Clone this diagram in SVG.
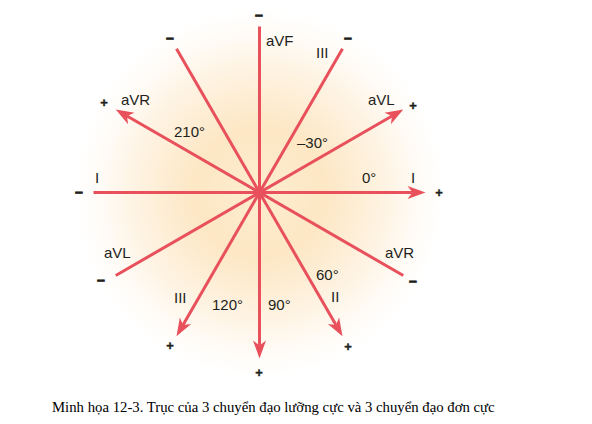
<svg xmlns="http://www.w3.org/2000/svg" width="592" height="424" viewBox="0 0 592 424">
<style>
.ax{stroke:#e8505b;stroke-width:3;fill:none}
.lb{font-family:"Liberation Sans",Arial,sans-serif;font-size:15px;fill:#231f20}
.sg{font-family:"Liberation Sans",Arial,sans-serif;font-size:13px;font-weight:bold;fill:#231f20;stroke:#231f20;stroke-width:0.4;text-anchor:middle}
.mn{font-family:"Liberation Sans",Arial,sans-serif;font-size:14px;font-weight:bold;fill:#231f20;stroke:#231f20;stroke-width:0.8;text-anchor:middle}
.cap{font-family:"Liberation Serif","Times New Roman",serif;font-size:14.75px;fill:#000}
</style>
<defs>
<radialGradient id="glow" cx="259.5" cy="192.5" r="185" gradientUnits="userSpaceOnUse">
<stop offset="0" stop-color="#fdedcf"/>
<stop offset="0.35" stop-color="#fde7c4"/>
<stop offset="0.65" stop-color="#fef2e0"/>
<stop offset="0.88" stop-color="#fffcf8"/>
<stop offset="1" stop-color="#ffffff"/>
</radialGradient>
<marker id="ah" markerUnits="userSpaceOnUse" markerWidth="20" markerHeight="14" viewBox="-20 -7 20 14" refX="-13" refY="0" orient="auto">
<path d="M0,0 L-18,-6.5 L-13,0 L-18,6.5 Z" fill="#e8505b"/>
</marker>
</defs>
<rect width="592" height="424" fill="#fff"/>
<circle cx="259.5" cy="192.5" r="185" fill="url(#glow)"/>

<g id="connectors">
<line id="axis-I" class="ax" x1="-166" y1="0" x2="153" y2="0" marker-end="url(#ah)" transform="translate(259.5,192.5) rotate(0)"/>
<line id="axis-aVL" class="ax" x1="-166" y1="0" x2="153" y2="0" marker-end="url(#ah)" transform="translate(259.5,192.5) rotate(-30)"/>
<line id="axis-aVR" class="ax" x1="-166" y1="0" x2="153" y2="0" marker-end="url(#ah)" transform="translate(259.5,192.5) rotate(-150)"/>
<line id="axis-II" class="ax" x1="-166" y1="0" x2="153" y2="0" marker-end="url(#ah)" transform="translate(259.5,192.5) rotate(60)"/>
<line id="axis-III" class="ax" x1="-166" y1="0" x2="153" y2="0" marker-end="url(#ah)" transform="translate(259.5,192.5) rotate(120)"/>
<line id="axis-aVF" class="ax" x1="-166" y1="0" x2="153" y2="0" marker-end="url(#ah)" transform="translate(259.5,192.5) rotate(90)"/>
</g>

<g id="lead-I">
<text class="lb" x="95" y="183">I</text>
<text class="lb" x="411" y="183">I</text>
<text class="lb" x="362" y="183">0°</text>
<text class="mn" x="79" y="197">–</text>
<text class="sg" x="439" y="197">+</text>
</g>
<g id="lead-aVL">
<text class="lb" x="368" y="105">aVL</text>
<text class="lb" x="104" y="258">aVL</text>
<text class="lb" x="297" y="148">–30°</text>
<text class="sg" x="413" y="110">+</text>
<text class="mn" x="101" y="285">–</text>
</g>
<g id="lead-aVR">
<text class="lb" x="121" y="105">aVR</text>
<text class="lb" x="385" y="258">aVR</text>
<text class="lb" x="174" y="137">210°</text>
<text class="sg" x="104" y="107">+</text>
<text class="mn" x="413" y="286">–</text>
</g>
<g id="lead-II">
<text class="lb" x="331" y="302">II</text>
<text class="lb" x="316" y="280">60°</text>
<text class="mn" x="170" y="43">–</text>
<text class="sg" x="348" y="351">+</text>
</g>
<g id="lead-III">
<text class="lb" x="316" y="58">III</text>
<text class="lb" x="174" y="303">III</text>
<text class="lb" x="212" y="310">120°</text>
<text class="mn" x="348" y="43">–</text>
<text class="sg" x="170" y="350">+</text>
</g>
<g id="lead-aVF">
<text class="lb" x="266" y="46">aVF</text>
<text class="lb" x="268" y="310">90°</text>
<text class="mn" x="259" y="20">–</text>
<text class="sg" x="259" y="377">+</text>
</g>

<text id="caption" class="cap" x="52" y="412">Minh họa 12-3. Trục của 3 chuyển đạo lưỡng cực và 3 chuyển đạo đơn cực</text>
</svg>
